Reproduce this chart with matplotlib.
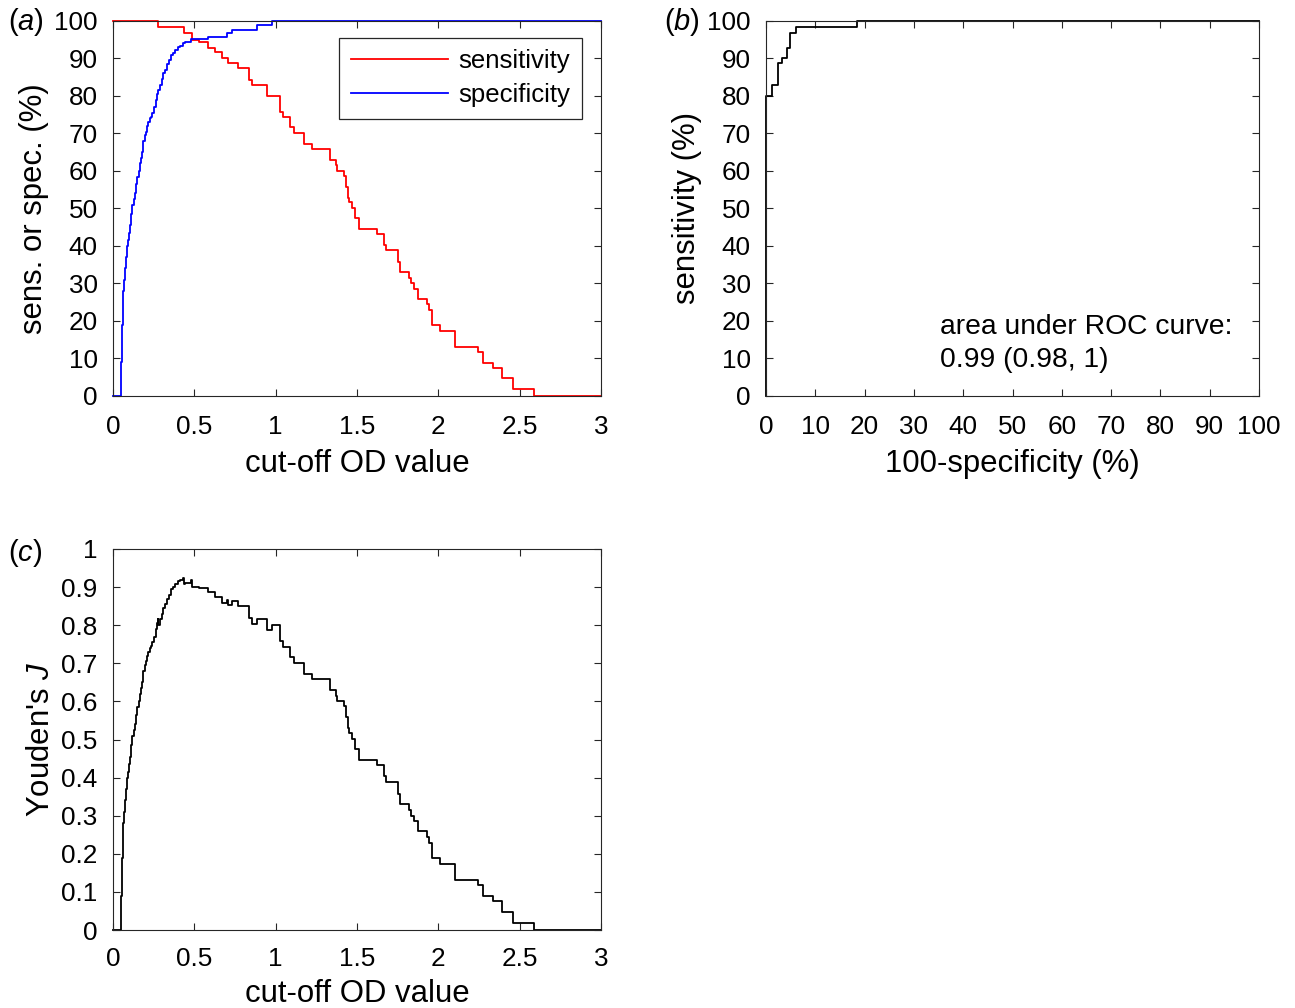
import numpy as np
import matplotlib
matplotlib.use('Agg')
import matplotlib.pyplot as plt

plt.rcParams['font.family'] = ['Liberation Sans', 'DejaVu Sans']
plt.rcParams['mathtext.fontset'] = 'custom'
plt.rcParams['mathtext.it'] = 'Liberation Sans:italic'
plt.rcParams['mathtext.rm'] = 'Liberation Sans'

# ---------------- data ----------------
sens_cutoff = [0.0, 0.279, 0.439, 0.485, 0.526, 0.587, 0.628, 0.670, 0.710, 0.766,
               0.834, 0.854, 0.947, 1.029, 1.045, 1.090, 1.115, 1.177, 1.224, 1.333,
               1.368, 1.380, 1.419, 1.430, 1.445, 1.452, 1.470, 1.490, 1.511, 1.625,
               1.666, 1.680, 1.752, 1.764, 1.820, 1.834, 1.850, 1.875, 1.929, 1.943,
               1.964, 2.010, 2.101, 2.241, 2.272, 2.333, 2.389, 2.457, 2.590]
sens_pct = [100.0, 98.5, 96.7, 94.9, 94.5, 92.9, 91.6, 90.0, 88.7, 87.4,
            84.3, 82.8, 80.0, 75.8, 74.3, 71.6, 70.2, 67.2, 65.9, 62.9,
            61.5, 60.1, 58.7, 55.8, 52.9, 51.6, 50.2, 47.4, 44.5, 43.2,
            40.3, 38.8, 35.8, 33.0, 31.4, 30.0, 28.6, 25.9, 24.5, 22.9,
            18.9, 17.4, 13.1, 11.7, 8.9, 7.5, 4.7, 1.9, 0.0]

spec_cutoff = [0.0, 0.047, 0.051, 0.054, 0.057, 0.060, 0.064, 0.068, 0.074, 0.080,
               0.085, 0.090, 0.097, 0.105, 0.112, 0.119, 0.127, 0.136, 0.143, 0.150,
               0.158, 0.166, 0.172, 0.177, 0.182, 0.187, 0.195, 0.203, 0.210, 0.218,
               0.225, 0.232, 0.242, 0.253, 0.262, 0.269, 0.278, 0.290, 0.300, 0.310,
               0.320, 0.331, 0.345, 0.356, 0.370, 0.382, 0.398, 0.413, 0.430, 0.444,
               0.480, 0.587, 0.700, 0.731, 0.885, 0.978]
spec_pct = [0.0, 4.0, 9.0, 14.0, 19.0, 24.0, 28.0, 31.0, 34.0, 37.0,
            40.0, 41.5, 43.5, 45.5, 48.5, 51.0, 52.5, 54.0, 56.5, 58.5,
            60.0, 62.0, 63.5, 65.0, 66.5, 68.0, 69.5, 70.5, 72.0, 73.0,
            74.0, 74.5, 75.5, 77.0, 79.0, 80.5, 81.5, 83.0, 84.5, 86.0,
            87.0, 88.5, 89.5, 91.0, 91.5, 92.3, 93.0, 93.4, 94.0, 94.5,
            95.2, 95.8, 96.7, 97.6, 98.8, 100.0]

od_max = 3.0
od_ticks = [0, 0.5, 1, 1.5, 2, 2.5, 3]
od_ticklabels = ['0', '0.5', '1', '1.5', '2', '2.5', '3']
pct_ticks = [0, 10, 20, 30, 40, 50, 60, 70, 80, 90, 100]
pct_ticklabels = ['0', '10', '20', '30', '40', '50', '60', '70', '80', '90', '100']
j_ticks = [0, 0.1, 0.2, 0.3, 0.4, 0.5, 0.6, 0.7, 0.8, 0.9, 1]
j_ticklabels = ['0', '0.1', '0.2', '0.3', '0.4', '0.5', '0.6', '0.7', '0.8', '0.9', '1']
auc_text = "area under ROC curve:\n0.99 (0.98, 1)"

# ---------------- derived curves ----------------
def step_at(cut, vals, t):
    idx = np.searchsorted(np.asarray(cut), t, side='right') - 1
    return np.asarray(vals)[idx]

grid = np.unique(np.concatenate([sens_cutoff, spec_cutoff, [od_max]]))
sens_g = step_at(sens_cutoff, sens_pct, grid)
spec_g = step_at(spec_cutoff, spec_pct, grid)
youden = (sens_g + spec_g - 100.0) / 100.0
fpr = (100.0 - spec_g)[::-1]
tpr = sens_g[::-1]

# ---------------- figure ----------------
W, H = 1295, 1008
fig = plt.figure(figsize=(W / 100, H / 100), dpi=100)

def ax_px(l, t, r, b):
    return fig.add_axes([l / W, 1 - b / H, (r - l) / W, (b - t) / H])

AX = '#262626'
TS = 18.8
LS = 22.4
LW = 1.3

def style(ax, xpad=14):
    for s in ax.spines.values():
        s.set_color(AX)
        s.set_linewidth(0.8)
    ax.tick_params(direction='in', length=5, width=0.8, colors=AX,
                   labelcolor='black', labelsize=TS, top=True, right=True)
    ax.tick_params(axis='x', pad=xpad)
    ax.tick_params(axis='y', pad=11)

# (a)
axa = ax_px(113, 21, 601, 396)
axa.plot(grid, sens_g, drawstyle='steps-post', color='red', lw=LW,
         label='sensitivity', clip_on=False)
axa.plot(grid, spec_g, drawstyle='steps-post', color='blue', lw=LW,
         label='specificity', clip_on=False)
axa.set_xlim(0, od_max)
axa.set_ylim(0, 100)
axa.set_xticks(od_ticks, od_ticklabels)
axa.set_yticks(pct_ticks, pct_ticklabels)
axa.set_xlabel('cut-off OD value', fontsize=LS, labelpad=7)
axa.set_ylabel('sens. or spec. (%)', fontsize=LS)
style(axa)
leg = axa.legend(loc='upper right', bbox_to_anchor=(0.961, 0.955), borderaxespad=0,
                 fontsize=18.5, handlelength=3.8, handletextpad=0.4,
                 labelspacing=0.38, borderpad=0.45, fancybox=False,
                 edgecolor=AX, framealpha=1)
leg.get_frame().set_linewidth(0.9)

# (b)
axb = ax_px(766, 21, 1259, 396)
axb.plot(fpr, tpr, drawstyle='steps-post', color='black', lw=LW, clip_on=False)
axb.set_xlim(0, 100)
axb.set_ylim(0, 100)
axb.set_xticks(pct_ticks, pct_ticklabels)
axb.set_yticks(pct_ticks, pct_ticklabels)
axb.set_xlabel('100-specificity (%)', fontsize=LS, labelpad=7)
axb.set_ylabel('sensitivity (%)', fontsize=LS)
style(axb)
axb.text(35.2, 14.0, auc_text, fontsize=20.3, ha='left', va='center', linespacing=1.35)

# (c)
axc = ax_px(113, 549, 601, 930)
axc.plot(grid, youden, drawstyle='steps-post', color='black', lw=LW, clip_on=False)
axc.set_xlim(0, od_max)
axc.set_ylim(0, 1)
axc.set_xticks(od_ticks, od_ticklabels)
axc.set_yticks(j_ticks, j_ticklabels)
axc.set_xlabel('cut-off OD value', fontsize=LS, labelpad=6)
axc.set_ylabel("Youden's $J$", fontsize=LS)
style(axc, xpad=12)

# panel letters
fig.text(8 / W, 1 - 22 / H, '($a$)', fontsize=21, ha='left', va='center')
fig.text(664 / W, 1 - 22 / H, '($b$)', fontsize=21, ha='left', va='center')
fig.text(8 / W, 1 - 553 / H, '($c$)', fontsize=21, ha='left', va='center')

fig.savefig('out.png', dpi=100)
